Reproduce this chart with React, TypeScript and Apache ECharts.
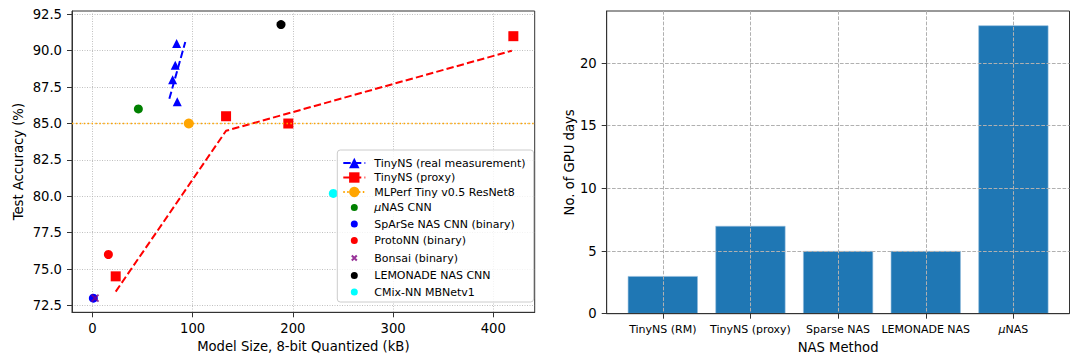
import React, { useEffect, useRef } from "react";
import * as echarts from "echarts";

const FONT = "'DejaVu Sans', 'Liberation Sans', sans-serif";

// ---------- Left chart data ----------
const realMeasPoints = [
  [84.1, 90.5],
  [82.7, 89.0],
  [80.1, 88.0],
  [84.7, 86.5],
];
const realMeasFit = [
  [76.8, 86.7],
  [92.7, 90.6],
];
const proxyPoints = [
  [23.3, 74.5],
  [133.4, 85.5],
  [195.5, 85.0],
  [420.0, 91.0],
];
const proxyFit = [
  [23.3, 73.45],
  [133.4, 84.5],
  [418.5, 90.0],
];
const mlperfPoint = [[96.2, 85.0]];
const mlperfAccuracy = 85.0;
const unasPoint = [[45.9, 86.0]];
const sparsePoint = [[1.0, 73.0]];
const protoPoint = [[16.0, 76.0]];
const bonsaiPoint = [[2.7, 73.0]];
const lemonadePoint = [[188.2, 91.8]];
const cmixPoint = [[240.4, 80.2]];

const accTicks = [72.5, 75, 77.5, 80, 82.5, 85, 87.5, 90, 92.5];
const sizeTicks = [0, 100, 200, 300, 400];
const accRange = [72.03, 92.73];
const sizeRange = [-20.3, 441.3];

const legendNames = [
  "TinyNS (real measurement)",
  "TinyNS (proxy)",
  "MLPerf Tiny v0.5 ResNet8",
  "μNAS CNN",
  "SpArSe NAS CNN (binary)",
  "ProtoNN (binary)",
  "Bonsai (binary)",
  "LEMONADE NAS CNN",
  "CMix-NN MBNetv1",
];

// ---------- Right chart data ----------
const nasMethods = ["TinyNS (RM)", "TinyNS (proxy)", "Sparse NAS", "LEMONADE NAS", "μNAS"];
const gpuDays = [3, 7, 5, 5, 23];
const gpuTicks = [0, 5, 10, 15, 20];
const gpuRange = [0, 24.15];
const nasRange = [-0.64, 4.64];

const AX = "#333333";
const dotIcon = "path://M0,0M22,13M14.5,6.5A3.5,3.5,0,1,1,7.5,6.5A3.5,3.5,0,1,1,14.5,6.5Z";
const xIcon = "path://M0,0M22,13M8.5,4L13.5,9M13.5,4L8.5,9";

const italicMu = (s: string) => s.replace("μ", "{i|μ}");

export default function App() {
  const ref = useRef<HTMLDivElement>(null);
  useEffect(() => {
    if (!ref.current) return;
    const chart = echarts.init(ref.current, undefined, { renderer: "svg" });

    const axisCommon = (fs: number) => ({
      nameLocation: "middle",
      nameTextStyle: { fontSize: 13.2, color: "#000", fontFamily: FONT },
      axisLine: { show: true, onZero: false, lineStyle: { color: AX, width: 1 } },
      axisLabel: { fontSize: fs, color: "#000", fontFamily: FONT, margin: 10 },
    });

    const scatter = (name: string, data: number[][], color: string, symbol: string, size: any, extra: any = {}) => ({
      name,
      type: "scatter",
      xAxisIndex: 0,
      yAxisIndex: 0,
      data,
      symbol,
      symbolSize: size,
      itemStyle: { color, opacity: 1 },
      ...extra,
    });

    const option: any = {
      animation: false,
      backgroundColor: "#ffffff",
      textStyle: { fontFamily: FONT },
      grid: [
        {
          left: 72, top: 11, width: 462.7, height: 301.3,
          show: true, borderColor: AX, borderWidth: 1, backgroundColor: "transparent",
          outerBoundsMode: "none", containLabel: false,
        },
        {
          left: 606.7, top: 11, width: 462.8, height: 302.7,
          show: true, borderColor: AX, borderWidth: 1, backgroundColor: "transparent",
          outerBoundsMode: "none", containLabel: false,
        },
      ],
      xAxis: [
        {
          ...axisCommon(13.2),
          gridIndex: 0,
          type: "value",
          min: sizeRange[0],
          max: sizeRange[1],
          name: "Model Size, 8-bit Quantized (kB)",
          nameGap: 27,
          axisTick: { show: true, customValues: sizeTicks, length: 5, lineStyle: { color: AX } },
          axisLabel: { ...axisCommon(13.2).axisLabel, customValues: sizeTicks, formatter: (v: number) => String(v) },
          splitLine: { show: true, lineStyle: { color: "#b0b0b0", width: 0.8, type: [1, 1.5] } },
        },
        {
          ...axisCommon(11),
          gridIndex: 1,
          type: "value",
          min: nasRange[0],
          max: nasRange[1],
          z: 3,
          name: "NAS Method",
          nameGap: 27,
          axisTick: { show: true, customValues: nasMethods.map((_, i) => i), length: 5, lineStyle: { color: AX } },
          axisLabel: {
            ...axisCommon(11).axisLabel,
            customValues: nasMethods.map((_, i) => i),
            formatter: (v: number) => italicMu(nasMethods[Math.round(v)] ?? ""),
            rich: { i: { fontStyle: "italic", fontSize: 11, color: "#000", fontFamily: FONT } },
          },
          splitLine: { show: true, lineStyle: { color: "#b0b0b0", width: 1, type: [3.7, 1.6] } },
        },
      ],
      yAxis: [
        {
          ...axisCommon(13.2),
          gridIndex: 0,
          type: "value",
          min: accRange[0],
          max: accRange[1],
          name: "Test Accuracy (%)",
          nameRotate: 90,
          nameGap: 47,
          axisTick: { show: true, customValues: accTicks, length: 5, lineStyle: { color: AX } },
          axisLabel: { ...axisCommon(13.2).axisLabel, customValues: accTicks, formatter: (v: number) => v.toFixed(1) },
          splitLine: { show: true, lineStyle: { color: "#b0b0b0", width: 0.8, type: [1, 1.5] } },
        },
        {
          ...axisCommon(13.2),
          gridIndex: 1,
          type: "value",
          min: gpuRange[0],
          max: gpuRange[1],
          z: 3,
          name: "No. of GPU days",
          nameRotate: 90,
          nameGap: 25,
          axisTick: { show: true, customValues: gpuTicks, length: 5, lineStyle: { color: AX } },
          axisLabel: { ...axisCommon(13.2).axisLabel, customValues: gpuTicks, formatter: (v: number) => String(v) },
          splitLine: { show: true, lineStyle: { color: "#b0b0b0", width: 1, type: [3.7, 1.6] } },
        },
      ],
      legend: {
        orient: "vertical",
        left: 337.3,
        top: 150,
        padding: [7.5, 8, 3.5, 5],
        itemWidth: 22,
        itemHeight: 13,
        itemGap: 3.5,
        backgroundColor: "rgba(255,255,255,0.8)",
        borderColor: "#cccccc",
        borderWidth: 1,
        borderRadius: 3,
        z: 10,
        data: legendNames.map((n, i) =>
          i < 3 ? { name: n } : { name: n, icon: n === "Bonsai (binary)" ? xIcon : dotIcon }
        ),
        formatter: (name: string) => italicMu(name),
        textStyle: {
          fontSize: 11,
          color: "#000",
          fontFamily: FONT,
          padding: [0, 0, 0, 4],
          rich: { i: { fontStyle: "italic", fontSize: 11, color: "#000", fontFamily: FONT } },
        },
      },
      series: [
        {
          name: legendNames[0],
          type: "line",
          xAxisIndex: 0,
          yAxisIndex: 0,
          data: realMeasFit,
          symbol: "triangle",
          showSymbol: false,
          itemStyle: { color: "#0000ff" },
          lineStyle: { color: "#0000ff", width: 2, type: [7.4, 3.2] },
        },
        {
          name: legendNames[1],
          type: "line",
          xAxisIndex: 0,
          yAxisIndex: 0,
          data: proxyFit,
          symbol: "rect",
          showSymbol: false,
          itemStyle: { color: "#ff0000" },
          lineStyle: { color: "#ff0000", width: 2, type: [7.4, 3.2] },
        },
        {
          name: legendNames[2],
          type: "line",
          xAxisIndex: 0,
          yAxisIndex: 0,
          data: [
            [sizeRange[0], mlperfAccuracy],
            [sizeRange[1], mlperfAccuracy],
          ],
          symbol: "circle",
          showSymbol: false,
          itemStyle: { color: "#ffa500" },
          lineStyle: { color: "#ffa500", width: 1.5, type: [1.5, 2.4] },
        },
        scatter(legendNames[0], realMeasPoints, "#0000ff", "triangle", 9),
        scatter(legendNames[1], proxyPoints, "#ff0000", "rect", 10),
        scatter(legendNames[2], mlperfPoint, "#ffa500", "circle", 10),
        scatter(legendNames[3], unasPoint, "#008000", "circle", 9),
        scatter(legendNames[4], sparsePoint, "#0000ff", "circle", 9),
        scatter(legendNames[5], protoPoint, "#ff0000", "circle", 9),
        scatter(legendNames[6], bonsaiPoint, "#800080", "path://M0,0L10,10M10,0L0,10", 7, {
          itemStyle: { color: "#800080", borderColor: "#800080", borderWidth: 1.8 },
        }),
        scatter(legendNames[7], lemonadePoint, "#000000", "circle", 9),
        scatter(legendNames[8], cmixPoint, "#00ffff", "circle", 9),
        {
          name: "GPU days",
          type: "bar",
          xAxisIndex: 1,
          yAxisIndex: 1,
          z: 1,
          data: gpuDays.map((v, i) => [i, v]),
          barWidth: 70,
          itemStyle: { color: "#1f77b4", borderColor: "#8fbbdc", borderWidth: 0.6 },
        },
      ],
    };

    chart.setOption(option);
    return () => chart.dispose();
  }, []);

  return (
    <div
      ref={ref}
      style={{ position: "fixed", left: 0, top: 0, width: 1074, height: 362, background: "#fff" }}
    />
  );
}
